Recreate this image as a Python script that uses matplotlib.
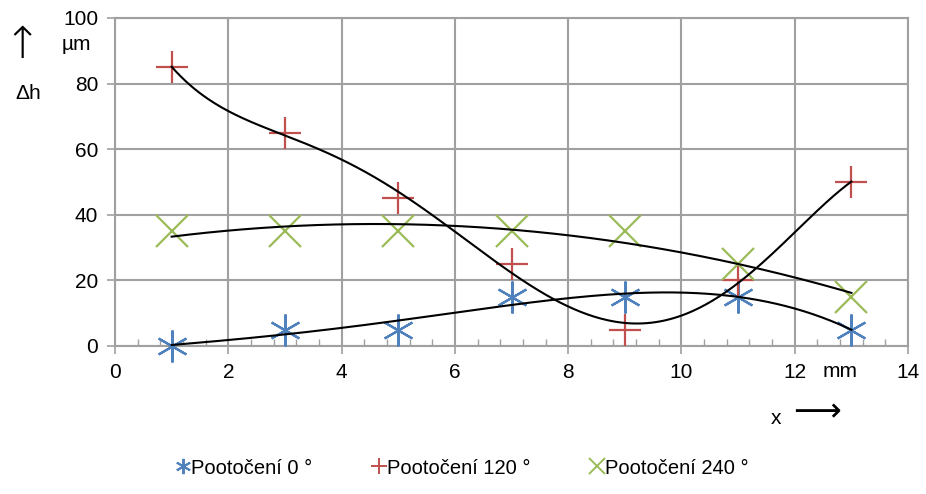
import numpy as np
import matplotlib
matplotlib.use("Agg")
import matplotlib.pyplot as plt
from matplotlib.lines import Line2D
from matplotlib.ticker import MultipleLocator

plt.rcParams['font.family'] = ['Liberation Sans', 'DejaVu Sans']

# data
x_pos = [1, 3, 5, 7, 9, 11, 13]
dh_0 = [0, 5, 5, 15, 15, 15, 5]
dh_120 = [85, 65, 45, 25, 5, 20, 50]
dh_240 = [35, 35, 35, 35, 35, 25, 15]
labels = ["Pootočení 0 °", "Pootočení 120 °", "Pootočení 240 °"]
colors = ["#4F81BD", "#C0504D", "#9BBB59"]
markers = [(6, 2, 0), "+", "x"]
trend_deg = [4, 5, 2]  # polynomial trendlines like excel

fig = plt.figure(figsize=(9.26, 4.94), dpi=100)
ax = fig.add_axes([0.1242, 0.2996, 0.8564, 0.664])

grid_c = "#A0A0A0"
xs = np.linspace(min(x_pos), max(x_pos), 300)
for ys, c, m, d in zip([dh_0, dh_120, dh_240], colors, markers, trend_deg):
    ax.plot(x_pos, ys, linestyle="none", marker=m, markersize=23,
            markeredgewidth=1.6, color=c, zorder=3, clip_on=False)
    coef = np.polyfit(x_pos, ys, d)
    ax.plot(xs, np.polyval(coef, xs), color="black", lw=1.5, zorder=4)

ax.set_xlim(0, 14)
ax.set_ylim(0, 100)
ax.xaxis.set_major_locator(MultipleLocator(2))
ax.xaxis.set_minor_locator(MultipleLocator(0.4))
ax.yaxis.set_major_locator(MultipleLocator(20))
ax.grid(True, which="major", color=grid_c, lw=1.5)
ax.set_axisbelow(True)
for s in ax.spines.values():
    s.set_color(grid_c)
    s.set_linewidth(1.5)
ax.tick_params(axis="both", which="major", direction="out", length=6,
               color=grid_c, width=1.2, labelsize=15, pad=6)
ax.tick_params(axis="x", which="minor", direction="in", length=5,
               color=grid_c, width=1.0)

fig.text(22 / 926, 1 - 46 / 494, "↑", fontsize=32, ha="center", va="center",
         family="DejaVu Sans", fontweight="light")
fig.text(76 / 926, 1 - 45 / 494, "µm", fontsize=15, ha="center", va="center")
fig.text(28 / 926, 1 - 93 / 494, "Δh", fontsize=15, ha="center", va="center")
fig.text(840 / 926, 1 - 371 / 494, "mm", fontsize=15, ha="center", va="center")
fig.text(776 / 926, 1 - 418 / 494, "x", fontsize=15, ha="center", va="center")
fig.text(817 / 926, 1 - 413 / 494, "⟶", fontsize=24, ha="center", va="center")

handles = [Line2D([], [], linestyle="none", marker=m, markersize=11,
                  markeredgewidth=1.4, color=c)
           for m, c in zip(markers, colors)]
fig.legend(handles, labels, loc="center", bbox_to_anchor=(0.5, 1 - 468 / 494),
           ncol=3, frameon=False, fontsize=14.5, handlelength=0.6,
           handletextpad=0.1, columnspacing=3.0)

plt.savefig("out.png", dpi=100)
